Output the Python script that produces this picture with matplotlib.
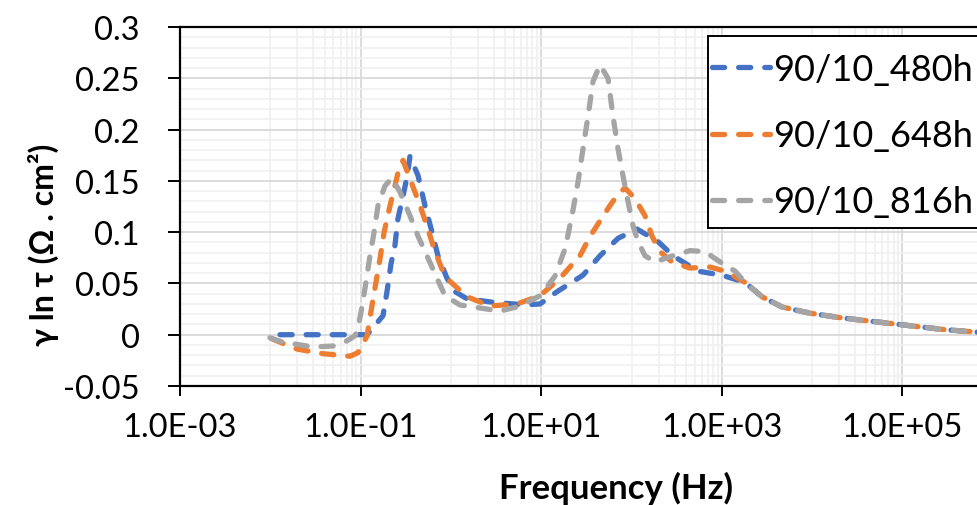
import matplotlib
matplotlib.use("Agg")
import matplotlib.pyplot as plt
from matplotlib.ticker import FixedLocator, FuncFormatter, MultipleLocator
from matplotlib.patches import Rectangle

plt.rcParams['font.family'] = ['Lato', 'DejaVu Sans']

# ---------------- data ----------------
f_480 = [0.0128, 0.0355, 0.0764, 0.118, 0.177, 0.196, 0.217, 0.240, 0.259, 0.295,
         0.330, 0.352, 0.433, 0.516, 0.618, 0.719, 0.906, 1.11, 1.51, 2.71, 6.61,
         9.70, 15.0, 29.0, 44.8, 71.0, 115, 196, 288, 545, 1005,
         1810, 2790, 4650, 9480, 20400, 49800, 121000, 296000, 687000, 1.2e6]
y_480 = [0.0, 0.0, 0.0, 0.0, 0.0185, 0.042, 0.069, 0.087, 0.113, 0.135,
         0.156, 0.174, 0.155, 0.126, 0.100, 0.077, 0.055, 0.042, 0.035, 0.032, 0.029,
         0.030, 0.042, 0.058, 0.077, 0.094, 0.103, 0.091, 0.077, 0.062, 0.058,
         0.051, 0.037, 0.027, 0.021, 0.0166, 0.0127, 0.0088, 0.0049, 0.0025, 0.001]

f_648 = [0.0104, 0.0198, 0.0384, 0.0764, 0.0935, 0.106, 0.118, 0.130, 0.144, 0.164,
         0.182, 0.212, 0.240, 0.266, 0.295, 0.352, 0.455, 0.543, 0.650, 0.796, 0.977,
         1.51, 2.71, 5.40, 9.70, 16.1, 26.9, 34.8, 44.8, 57.8, 71.0, 84.7, 109, 141,
         169, 207, 281, 445, 740, 1080,
         1810, 2790, 4650, 9480, 20400, 49800, 121000, 296000, 687000, 1.2e6]
y_648 = [-0.004, -0.014, -0.0185, -0.021, -0.0175, -0.009, -0.001, 0.022, 0.045, 0.074,
         0.100, 0.126, 0.145, 0.162, 0.170, 0.152, 0.126, 0.106, 0.084, 0.064, 0.052,
         0.037, 0.028, 0.030, 0.038, 0.055, 0.077, 0.096, 0.111, 0.126, 0.137, 0.143, 0.133, 0.116,
         0.096, 0.081, 0.071, 0.065, 0.066, 0.062,
         0.051, 0.037, 0.027, 0.021, 0.0166, 0.0127, 0.0088, 0.0049, 0.0025, 0.001]

f_816 = [0.0099, 0.0135, 0.0297, 0.0494, 0.0706, 0.0867, 0.0935, 0.104, 0.115, 0.127,
         0.141, 0.156, 0.186, 0.223, 0.273, 0.352, 0.433, 0.543, 0.702, 0.861, 1.26,
         2.51, 3.50, 5.82, 9.70, 14.2, 18.4, 21.9, 25.6, 29.0, 33.0, 37.5, 44.8, 54.9,
         62.4, 71.0, 80.5, 91.4, 104, 118, 141, 182, 267, 445, 652, 955, 1400,
         1810, 2790, 4650, 9480, 20400, 49800, 121000, 296000, 687000, 1.2e6]
y_816 = [-0.003, -0.007, -0.012, -0.011, -0.006, -0.001, 0.006, 0.028, 0.052, 0.077,
         0.100, 0.126, 0.145, 0.153, 0.139, 0.116, 0.096, 0.077, 0.055, 0.038, 0.029,
         0.025, 0.023, 0.028, 0.038, 0.057, 0.084, 0.116, 0.149, 0.181, 0.213, 0.247, 0.263, 0.250,
         0.213, 0.181, 0.155, 0.130, 0.106, 0.091, 0.077, 0.071, 0.076, 0.082, 0.081, 0.071, 0.062,
         0.051, 0.037, 0.027, 0.021, 0.0166, 0.0127, 0.0088, 0.0049, 0.0025, 0.001]

labels = ["90/10_480h", "90/10_648h", "90/10_816h"]
colors = ["#4472C4", "#ED7D31", "#A5A5A5"]
x_major = [1e-3, 1e-1, 1e1, 1e3, 1e5]
y_major = [-0.05, 0.0, 0.05, 0.1, 0.15, 0.2, 0.25, 0.3]

# ---------------- figure ----------------
W, H = 978, 506
fig = plt.figure(figsize=(W / 100, H / 100), dpi=100)
ax = fig.add_axes([180 / W, (H - 387) / H, 903 / W, 359 / H])

ax.set_xscale('log')
ax.set_xlim(1e-3, 1e7)
ax.set_ylim(-0.05, 0.3)

for fx, fy, c, lab in zip([f_480, f_648, f_816], [y_480, y_648, y_816], colors, labels):
    ax.plot(fx, fy, color=c, lw=3.8, linestyle=(0, (2.3, 2.65)),
            dash_capstyle='round', solid_capstyle='round', label=lab, zorder=3)

# ticks
ax.xaxis.set_major_locator(FixedLocator(x_major))
ax.xaxis.set_major_formatter(FuncFormatter(lambda v, p: f"{v:.1E}"))
minor_x = [k * 10.0 ** e for e in (-2, 0, 2, 4, 6) for k in range(1, 10)]
ax.xaxis.set_minor_locator(FixedLocator(minor_x))
ax.xaxis.set_minor_formatter(FuncFormatter(lambda v, p: ""))
ax.yaxis.set_major_locator(FixedLocator(y_major))
ax.yaxis.set_major_formatter(FuncFormatter(lambda v, p: f"{v:g}" if abs(v) > 1e-9 else "0"))
ax.yaxis.set_minor_locator(MultipleLocator(0.01))

ax.tick_params(axis='x', which='major', direction='out', length=7.5, width=1.4,
               pad=11, labelsize=23.5, colors='black')
ax.tick_params(axis='y', which='major', direction='out', length=9, width=1.4,
               pad=20, labelsize=23.5, colors='black')
ax.tick_params(which='minor', length=0)

ax.grid(which='major', color='#D9D9D9', lw=1.3)
ax.grid(which='minor', color='#F0F0F0', lw=1.2)
ax.set_axisbelow(True)

for s in ('left', 'top', 'bottom'):
    ax.spines[s].set_color('black')
    ax.spines[s].set_linewidth(1.6)
ax.spines['right'].set_visible(False)

# axis labels
fig.text(616 / W, 1 - 488 / H, "Frequency (Hz)", ha='center', va='center',
         fontsize=25, fontweight='bold')
fig.text(43 / W, 1 - 245 / H, "γ ln τ (Ω . cm²)", ha='center', va='center',
         rotation=90, fontsize=23, fontweight='bold')

# legend box (frame drawn separately so the padding can match the reference)
frame = Rectangle((708 / W, 1 - 229 / H), 300 / W, 192 / H, transform=fig.transFigure,
                  facecolor='white', edgecolor='black', lw=1.4, zorder=4)
fig.add_artist(frame)
leg = ax.legend(loc='upper left', bbox_to_anchor=(712 / W, 1 - 54 / H),
                bbox_transform=fig.transFigure, fontsize=26, frameon=False,
                borderaxespad=0, borderpad=0,
                handlelength=1.6, handletextpad=0.1, labelspacing=0.92)
leg.set_zorder(5)
fig.add_artist(leg)

fig.savefig("out.png", dpi=100)
